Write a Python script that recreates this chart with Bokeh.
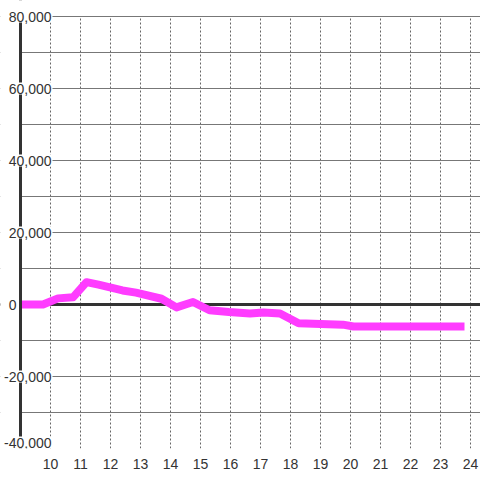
from bokeh.plotting import figure
from bokeh.models import Label, Span, FixedTicker, Range1d, BoxAnnotation
from bokeh.embed import file_html
from bokeh.resources import INLINE

# data
hours = [8.93, 9.75, 10.25, 10.75, 11.2, 11.6, 12.4, 12.85, 13.7, 14.2, 14.75,
         15.3, 15.95, 16.65, 17.1, 17.65, 18.27, 19.0, 19.75, 20.1, 21.0, 22.0,
         23.0, 23.8]
values = [0, 0, 1700, 2000, 6200, 5500, 3900, 3300, 1600, -800, 700,
          -1600, -2100, -2500, -2200, -2500, -5200, -5400, -5600, -6100, -6100,
          -6100, -6100, -6100]
x_ticks = list(range(10, 25))
y_grid = list(range(-40000, 80001, 10000))
y_label_values = [80000, 60000, 40000, 20000, 0, -20000, -40000]
y_label_texts = ["80,000", "60,000", "40,000", "20,000", "0", "-20,000", "-40,000"]
axis_x = 9

FONT = "Liberation Sans"
TXT = "#333333"

y_top = max(y_grid) + 16 * 10000 / 36  # room above the top grid line for its label

p = figure(width=480, height=480, output_backend="svg", toolbar_location=None,
           x_range=Range1d(8 + 1 / 3, 24 + 1 / 3), y_range=Range1d(min(y_grid), y_top),
           min_border_left=0, min_border_right=0, min_border_top=0,
           min_border_bottom=32)
p.outline_line_color = None
p.background_fill_color = "#ffffff"
p.border_fill_color = "#ffffff"
p.yaxis.visible = False

# x axis
p.xaxis.ticker = FixedTicker(ticks=x_ticks)
p.xaxis.axis_line_color = None
p.xaxis.major_tick_line_color = None
p.xaxis.minor_tick_line_color = None
p.xaxis.major_label_text_font = FONT
p.xaxis.major_label_text_font_size = "14px"
p.xaxis.major_label_text_color = TXT
p.xaxis.major_label_standoff = 4

# grids
p.xgrid.ticker = FixedTicker(ticks=x_ticks)
p.xgrid.grid_line_color = "#666666"
p.xgrid.grid_line_dash = "2 2"
p.xgrid.grid_line_width = 1
p.ygrid.ticker = FixedTicker(ticks=y_grid)
p.ygrid.grid_line_color = "#777777"
p.ygrid.grid_line_width = 1

# series
p.line(hours, values, line_color="#ff3cff", line_width=8, line_join="round")

# zero line and vertical axis line
p.add_layout(Span(location=0, dimension="width", line_color=TXT, line_width=3,
                  level="underlay"))
p.add_layout(Span(location=axis_x, dimension="height", line_color=TXT, line_width=3))

# blank margins left of the axis and above the top grid line
p.add_layout(BoxAnnotation(right=axis_x - 0.05, fill_color="#ffffff", fill_alpha=1,
                           line_color=None))
p.add_layout(BoxAnnotation(bottom=max(y_grid) + 150, fill_color="#ffffff", fill_alpha=1,
                           line_color=None))

# y labels
ymin = min(y_label_values)
for v, t in zip(y_label_values, y_label_texts):
    p.add_layout(Label(x=axis_x, y=v, text=t,
                       x_offset=(-3 if v == 0 else 32),
                       y_offset=(6 if v == ymin else 0),
                       text_align="right", text_baseline="middle",
                       text_font=FONT, text_font_size="14px", text_color=TXT,
                       background_fill_color=("#ffffff" if v != 0 else None),
                       padding=1))

open("out.html", "w").write(file_html(p, INLINE))
